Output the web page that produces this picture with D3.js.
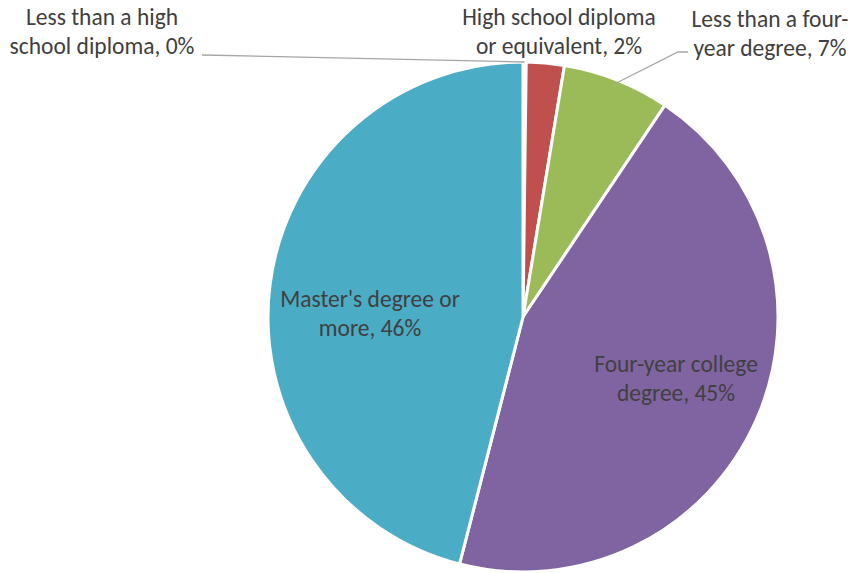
<!DOCTYPE html>
<html>
<head>
<meta charset="utf-8">
<script src="https://cdn.jsdelivr.net/npm/d3@7"></script>
<style>
  html, body { margin: 0; padding: 0; background: #ffffff; }
  svg { display: block; }
  text { font-family: Carlito, Calibri, "Open Sans", sans-serif; fill: #404040; }
</style>
</head>
<body>
<svg id="chart" width="854" height="573"></svg>
<script>
// Education level shares (percent)
const categories = [
  "Less than a high school diploma",
  "High school diploma or equivalent",
  "Less than a four-year degree",
  "Four-year college degree",
  "Master's degree or more"
];
const shares = [0.2, 2.4, 6.8, 44.6, 46.0];
const labelLines = [
  ["Less than a high", "school diploma, 0%"],
  ["High school diploma", "or equivalent, 2%"],
  ["Less than a four-", "year degree, 7%"],
  ["Four-year college", "degree, 45%"],
  ["Master's degree or", "more, 46%"]
];
const colors = ["#4F81BD", "#C0504D", "#9BBB59", "#8064A2", "#4BACC6"];

// Layout
const W = 854, H = 573;
const cx = 523, cy = 317, R = 255;
// label anchors (centre of first baseline) and optional leader-line start
const labelLayout = [
  { x: 102, y: 25, leader: [202, 55] },
  { x: 559, y: 25, leader: null },
  { x: 770, y: 27, leader: [688, 52], elbow: [678, 52] },
  { x: 676, y: 372, leader: null },
  { x: 370, y: 307, leader: null }
];
const lineGap = 28.5;

const svg = d3.select("#chart");
const g = svg.append("g").attr("transform", `translate(${cx},${cy})`);

const data = categories.map((c, i) => ({ name: c, value: shares[i], i }));
const pie = d3.pie().sort(null).value(d => d.value);
const arcs = pie(data);
const arc = d3.arc().innerRadius(0).outerRadius(R);

g.selectAll("path.slice")
  .data(arcs)
  .join("path")
  .attr("class", "slice")
  .attr("d", arc)
  .attr("fill", d => colors[d.data.i])
  .attr("stroke", "#ffffff")
  .attr("stroke-width", 3)
  .attr("stroke-linejoin", "round");

// leader lines for outside labels
arcs.forEach(a => {
  const L = labelLayout[a.data.i];
  if (!L.leader) return;
  const mid = (a.startAngle + a.endAngle) / 2;
  const r = a.data.i === 0 ? R : R * 0.985;
  const ex = cx + Math.sin(mid) * r;
  const ey = cy - Math.cos(mid) * r;
  const pts = [L.leader];
  if (L.elbow) pts.push(L.elbow);
  pts.push([ex, ey]);
  svg.append("path")
    .attr("d", d3.line()(pts))
    .attr("fill", "none")
    .attr("stroke", "#A6A6A6")
    .attr("stroke-width", 1.3);
});

// labels
arcs.forEach(a => {
  const L = labelLayout[a.data.i];
  const t = svg.append("text")
    .attr("text-anchor", "middle")
    .attr("font-size", 23.5);
  labelLines[a.data.i].forEach((line, k) => {
    t.append("tspan")
      .attr("x", L.x)
      .attr("y", L.y + k * lineGap)
      .text(line);
  });
});
</script>
</body>
</html>
